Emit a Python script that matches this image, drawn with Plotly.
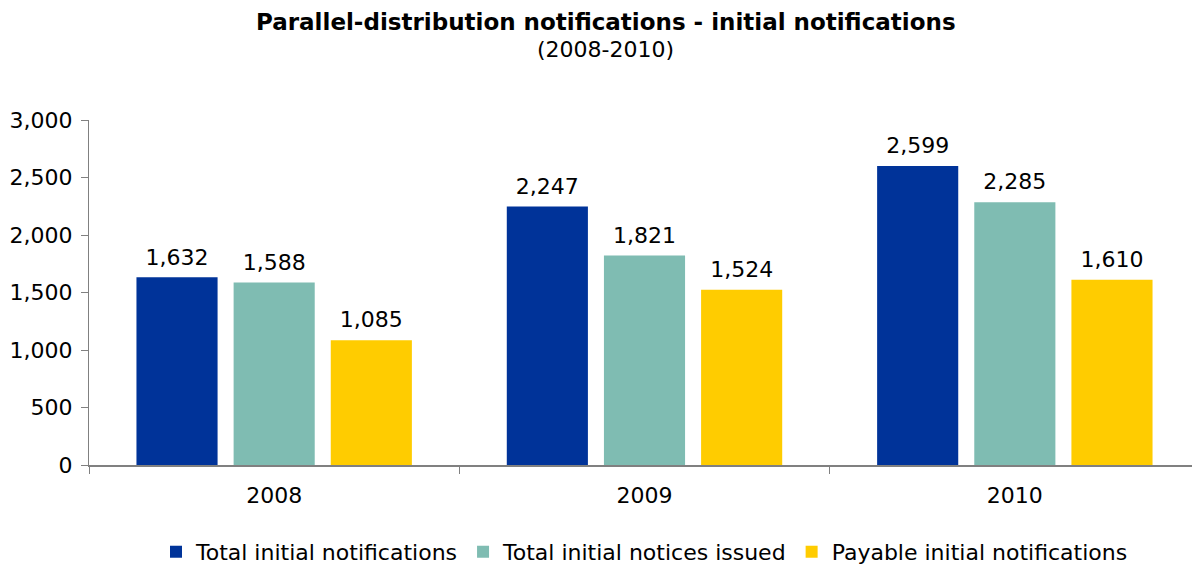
import plotly.graph_objects as go

years = ["2008", "2009", "2010"]
series_names = ["Total initial notifications", "Total initial notices issued", "Payable initial notifications"]
total_notifications = [1632, 2247, 2599]
total_notices_issued = [1588, 1821, 2285]
payable_notifications = [1085, 1524, 1610]
colors = ["#003399", "#7FBCB2", "#FFCC00"]
title_text = "Parallel-distribution notifications - initial notifications"
subtitle_text = "(2008-2010)"

FONT = "DejaVu Sans"
fig = go.Figure()
all_series = [total_notifications, total_notices_issued, payable_notifications]
for i, (name, vals, col) in enumerate(zip(series_names, all_series, colors)):
    fig.add_trace(go.Bar(
        x=years, y=vals, name=name, marker=dict(color=col, line=dict(width=0)),
        offsetgroup=str(i), alignmentgroup="a",
    ))
# value labels placed above the bars, grouped the same way as the bars
for i, vals in enumerate(all_series):
    fig.add_trace(go.Scatter(
        x=years, y=vals, mode="markers+text", text=[f"{v:,}" for v in vals],
        textposition="top center", showlegend=False, hoverinfo="skip",
        marker=dict(size=10, opacity=0), offsetgroup=str(i), alignmentgroup="a",
        cliponaxis=False,
        textfont=dict(family=FONT, size=22, color="#000000"),
    ))

# The page body adds an 8px margin, so the figure is sized/offset to compensate.
fig.update_layout(
    width=1192, height=559,
    paper_bgcolor="white", plot_bgcolor="white",
    margin=dict(l=81, r=0, t=112, b=102, autoexpand=False),
    barmode="group", bargap=0.213, bargroupgap=0.165,
    scattermode="group", scattergap=0.213,
    font=dict(family=FONT, color="#000000"),
    legend=dict(
        orientation="h", x=0.5, xanchor="center", y=-0.252, yanchor="middle",
        font=dict(family=FONT, size=22, color="#000000"),
        itemwidth=30, traceorder="normal", tracegroupgap=0,
    ),
    showlegend=True,
    annotations=[
        dict(text=f"<b>{title_text}</b>", xref="paper", yref="paper", x=0.465, y=1.284,
             xanchor="center", yanchor="middle", showarrow=False,
             font=dict(family=FONT, size=23, color="#000000")),
        dict(text=subtitle_text, xref="paper", yref="paper", x=0.465, y=1.203,
             xanchor="center", yanchor="middle", showarrow=False,
             font=dict(family=FONT, size=22, color="#000000")),
    ],
)
fig.update_xaxes(
    type="category", showline=True, linecolor="#808080", linewidth=2,
    tickson="boundaries", ticks="outside", ticklen=7, tickcolor="#808080",
    tickfont=dict(family=FONT, size=22, color="#000000"), showgrid=False,
    automargin=False, ticklabelstandoff=10,
)
fig.update_yaxes(
    range=[0, 3000], dtick=500, tickformat=",", showline=True, linecolor="#808080", linewidth=1,
    ticks="outside", ticklen=7, tickcolor="#808080", showgrid=False, zeroline=False,
    tickfont=dict(family=FONT, size=22, color="#000000"), automargin=False,
    ticklabelstandoff=4,
)
fig.write_html("out.html")
